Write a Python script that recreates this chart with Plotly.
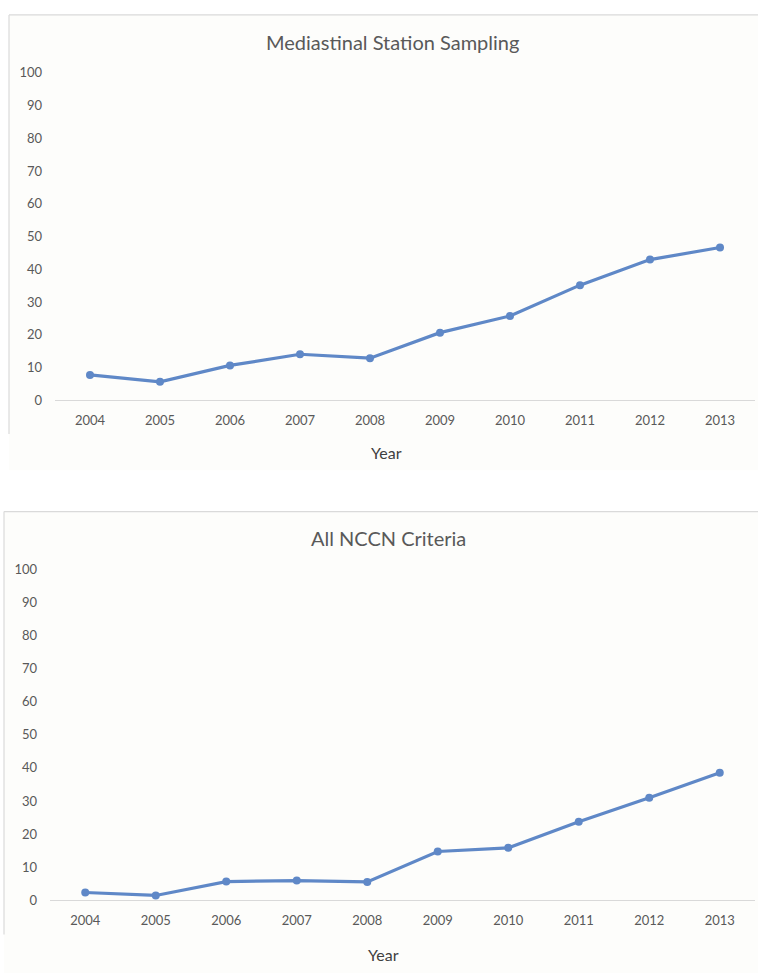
import plotly.graph_objects as go

years = ["2004", "2005", "2006", "2007", "2008", "2009", "2010", "2011", "2012", "2013"]
mediastinal = [7.8, 5.7, 10.7, 14.1, 12.9, 20.7, 25.8, 35.2, 43.0, 46.7]
nccn = [2.3, 1.4, 5.6, 5.9, 5.5, 14.7, 15.8, 23.7, 31.0, 38.5]
y_ticks = [0, 10, 20, 30, 40, 50, 60, 70, 80, 90, 100]
titles = ["Mediastinal Station Sampling", "All NCCN Criteria"]

W, H = 758, 973
LINE = "#5F88C7"
BG = "#FDFDFB"
BORDER = "#DADADA"
FONT = "Lato"

def px(x):
    return x / W

def py(y):
    return 1 - y / H

fig = go.Figure()
fig.add_trace(go.Scatter(x=years, y=mediastinal, mode="lines+markers",
                         line=dict(color=LINE, width=3.2),
                         marker=dict(size=8, color=LINE),
                         xaxis="x", yaxis="y", showlegend=False))
fig.add_trace(go.Scatter(x=years, y=nccn, mode="lines+markers",
                         line=dict(color=LINE, width=3.2),
                         marker=dict(size=8, color=LINE),
                         xaxis="x2", yaxis="y2", showlegend=False))

common_x = dict(type="category", range=[-0.5, len(years) - 0.5], showgrid=False,
                zeroline=False, showline=True,
                linecolor="#D9D9D9", linewidth=1.2, ticks="",
                tickfont=dict(family=FONT, size=13, color="#595959"),
                ticklabelstandoff=8, fixedrange=True)
common_y = dict(range=[0, 100], tickvals=y_ticks, showgrid=False, zeroline=False,
                showline=False, ticks="",
                tickfont=dict(family=FONT, size=13, color="#595959"),
                ticklabelstandoff=12, fixedrange=True)

fig.update_layout(
    width=W, height=H, autosize=False,
    margin=dict(l=0, r=0, t=0, b=0),
    paper_bgcolor="white", plot_bgcolor="rgba(0,0,0,0)",
    xaxis=dict(domain=[px(55), px(755)], anchor="y", **common_x),
    yaxis=dict(domain=[py(399), py(66)], anchor="x", **common_y),
    xaxis2=dict(domain=[px(50), px(755)], anchor="y2", **common_x),
    yaxis2=dict(domain=[py(907), py(571)], anchor="x2", **common_y),
)

shapes = [
    # top chart panel
    dict(type="rect", xref="paper", yref="paper", x0=px(9), x1=1.01, y0=py(470), y1=py(7),
         fillcolor=BG, line=dict(width=0), layer="below"),
    dict(type="line", xref="paper", yref="paper", x0=px(9), x1=1.01, y0=py(7), y1=py(7),
         line=dict(color=BORDER, width=1.2), layer="below"),
    dict(type="line", xref="paper", yref="paper", x0=px(9), x1=px(9), y0=py(433), y1=py(7),
         line=dict(color=BORDER, width=1.2), layer="below"),
    # bottom chart panel
    dict(type="rect", xref="paper", yref="paper", x0=px(4), x1=1.01, y0=-0.01, y1=py(512),
         fillcolor=BG, line=dict(width=0), layer="below"),
    dict(type="line", xref="paper", yref="paper", x0=px(4), x1=1.01, y0=py(512), y1=py(512),
         line=dict(color=BORDER, width=1.2), layer="below"),
    dict(type="line", xref="paper", yref="paper", x0=px(4), x1=px(4), y0=py(942), y1=py(512),
         line=dict(color=BORDER, width=1.2), layer="below"),
]
fig.update_layout(shapes=shapes)

annotations = [
    dict(text=titles[0], x=px(392), y=py(35), xref="paper", yref="paper",
         showarrow=False, xanchor="center", yanchor="middle",
         font=dict(family=FONT, size=20, color="#595959")),
    dict(text=titles[1], x=px(388), y=py(539), xref="paper", yref="paper",
         showarrow=False, xanchor="center", yanchor="middle",
         font=dict(family=FONT, size=20, color="#595959")),
    dict(text="Year", x=px(386), y=py(452), xref="paper", yref="paper",
         showarrow=False, xanchor="center", yanchor="middle",
         font=dict(family=FONT, size=16, color="#404040")),
    dict(text="Year", x=px(383), y=py(962), xref="paper", yref="paper",
         showarrow=False, xanchor="center", yanchor="middle",
         font=dict(family=FONT, size=16, color="#404040")),
]
fig.update_layout(annotations=annotations)

fig.write_html("out.html")
